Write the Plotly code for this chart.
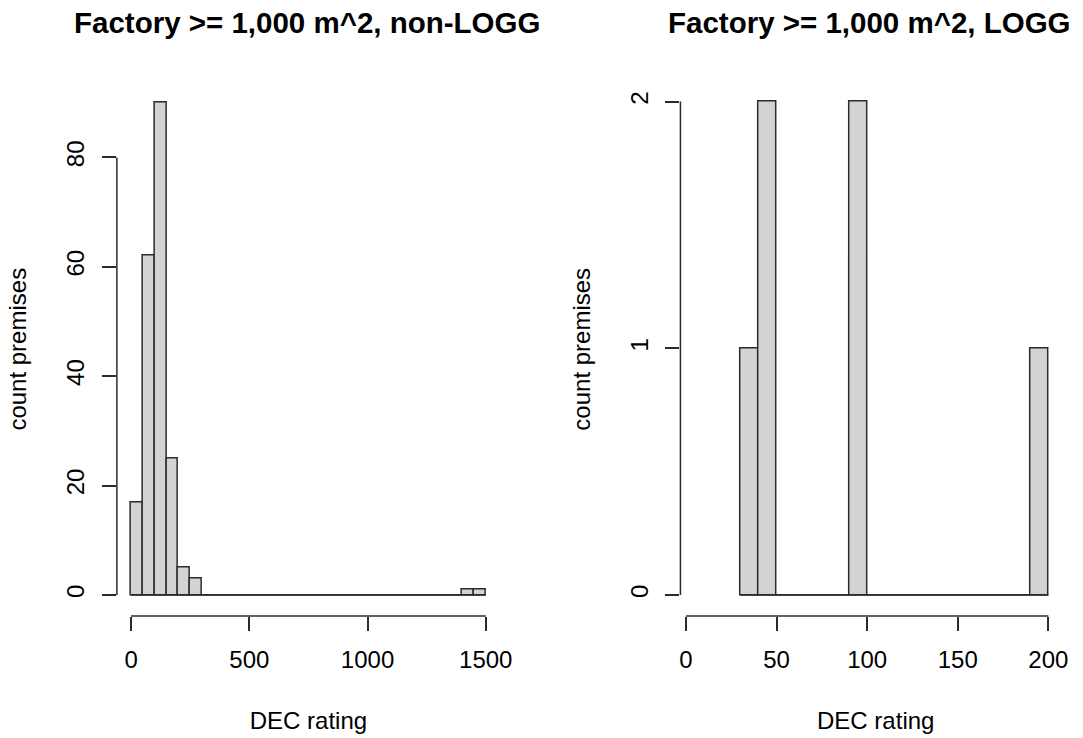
import plotly.graph_objects as go

# ---- data ----
left_title = "Factory >= 1,000 m^2, non-LOGG"
right_title = "Factory >= 1,000 m^2, LOGG"

left_breaks = list(range(0, 1501, 50))
left_counts = [17, 62, 90, 25, 5, 3, 0, 0, 0, 0,
               0, 0, 0, 0, 0, 0, 0, 0, 0, 0,
               0, 0, 0, 0, 0, 0, 0, 0, 1, 1]

right_breaks = list(range(30, 201, 10))
right_counts = [1, 2, 0, 0, 0, 0, 2, 0, 0, 0, 0, 0, 0, 0, 0, 0, 1]

left_xticks = [0, 500, 1000, 1500]
left_yticks = [0, 20, 40, 60, 80]
right_xticks = [0, 50, 100, 150, 200]
right_yticks = [0, 1, 2]

x_label = "DEC rating"
y_label = "count premises"

# ---- layout constants ----
W, H = 1083, 738
FONT = "Liberation Sans, Arial, sans-serif"
FILL = "#D3D3D3"
EDGE = "#2b2b2b"


def centers(b):
    return [(b[i] + b[i + 1]) / 2 for i in range(len(b) - 1)]


def widths(b):
    return [b[i + 1] - b[i] for i in range(len(b) - 1)]


fig = go.Figure()

for i, (br, ct) in enumerate([(left_breaks, left_counts), (right_breaks, right_counts)]):
    xa = "x" if i == 0 else "x2"
    ya = "y" if i == 0 else "y2"
    fig.add_trace(go.Bar(
        x=centers(br), y=ct, width=widths(br),
        marker=dict(color=FILL, line=dict(color=EDGE, width=1.5)),
        xaxis=xa, yaxis=ya, showlegend=False, hoverinfo="x+y",
    ))
    # baseline for empty bins (R draws zero-height rectangles)
    fig.add_trace(go.Scatter(
        x=[br[0], br[-1]], y=[0, 0], mode="lines",
        line=dict(color=EDGE, width=1.5),
        xaxis=xa, yaxis=ya, showlegend=False, hoverinfo="skip",
    ))


def px_x(p):
    return p / W


def px_y(p):
    return 1 - p / H


axis_common = dict(
    showgrid=False, zeroline=False, showline=False,
    ticks="outside", ticklen=14, tickwidth=1.5, tickcolor=EDGE,
    tickfont=dict(family=FONT, size=24, color="#000"),
    fixedrange=True,
)
title_font = dict(family=FONT, size=24, color="#000")

fig.update_layout(
    width=W, height=H, autosize=False,
    margin=dict(l=0, r=0, t=0, b=0),
    paper_bgcolor="white", plot_bgcolor="white",
    bargap=0,
    xaxis=dict(domain=[px_x(117.3), px_x(505)], range=[-60, 1560],
               tickvals=left_xticks, anchor="y", ticklabelstandoff=8,
               title=dict(text=x_label, font=title_font, standoff=40),
               **axis_common),
    yaxis=dict(domain=[px_y(616), px_y(82.5)], range=[-21 / 5.47, 512.5 / 5.47],
               tickvals=left_yticks, tickangle=-90, anchor="x", ticklabelstandoff=8,
               title=dict(text=y_label, font=title_font, standoff=28),
               **axis_common),
    xaxis2=dict(domain=[px_x(687.7), 1.0], range=[-3.05, 212.5],
                tickvals=right_xticks, anchor="y2", ticklabelstandoff=8,
                title=dict(text=x_label, font=title_font, standoff=40),
                **axis_common),
    yaxis2=dict(domain=[px_y(616), px_y(82.5)], range=[-21 / 246.7, 512.5 / 246.7],
                tickvals=right_yticks, tickangle=-90, anchor="x2", ticklabelstandoff=8,
                title=dict(text=y_label, font=title_font, standoff=28),
                **axis_common),
)

# R-style axis lines spanning first..last tick
for xa, ya, xt, yt in [("x", "y", left_xticks, left_yticks), ("x2", "y2", right_xticks, right_yticks)]:
    fig.add_shape(type="line", xref=xa, yref=f"{ya} domain", x0=xt[0], x1=xt[-1], y0=0, y1=0,
                  line=dict(color=EDGE, width=1.5))
    fig.add_shape(type="line", xref=f"{xa} domain", yref=ya, x0=0, x1=0, y0=yt[0], y1=yt[-1],
                  line=dict(color=EDGE, width=1.5))

# panel titles
for title, cx in [(left_title, 310), (right_title, 879)]:
    fig.add_annotation(text=f"<b>{title}</b>", xref="paper", yref="paper",
                       x=px_x(cx), y=px_y(22), xanchor="center", yanchor="middle",
                       showarrow=False, font=dict(family=FONT, size=29.5, color="#000"))

fig.write_html("out.html", config={"responsive": False, "displayModeBar": False})
